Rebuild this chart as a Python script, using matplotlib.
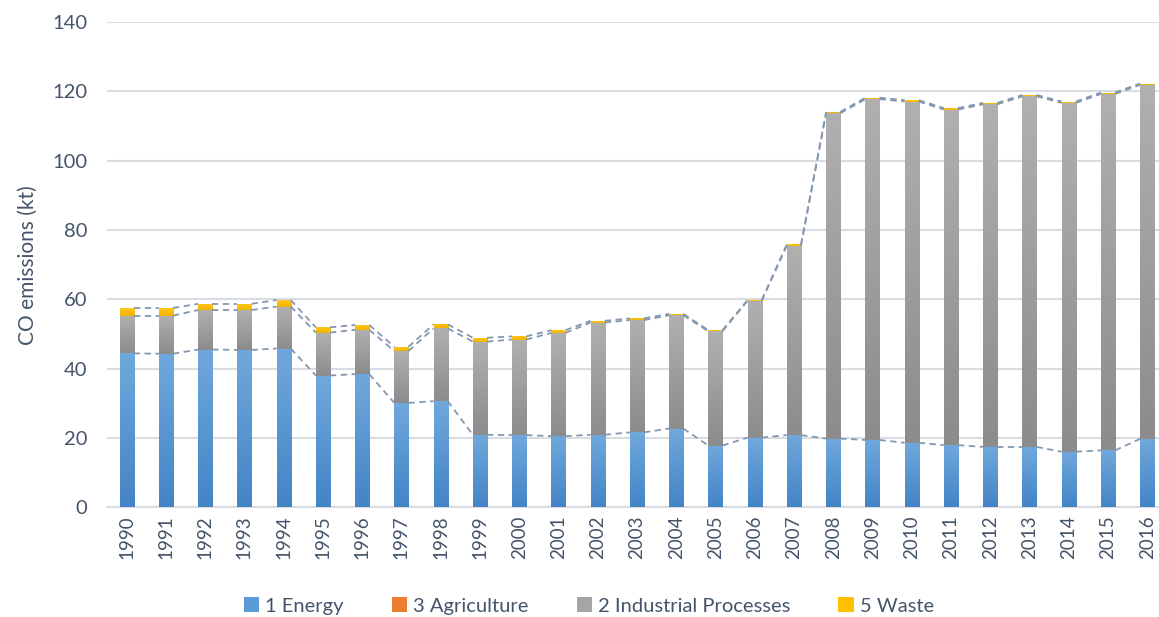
import numpy as np
import matplotlib
matplotlib.use("Agg")
import matplotlib.pyplot as plt
from matplotlib.colors import LinearSegmentedColormap
from matplotlib.patches import Patch

years = [str(y) for y in range(1990, 2017)]
energy = [44.4, 44.3, 45.5, 45.4, 45.8, 38.0, 38.4, 30.1, 30.6, 20.9,
          20.8, 20.5, 20.9, 21.6, 22.7, 17.8, 20.1, 20.8, 19.8, 19.4,
          18.6, 17.9, 17.4, 17.4, 16.0, 16.4, 19.7]
agriculture = [0.0] * 27
industrial = [10.9, 11.0, 11.4, 11.5, 12.1, 12.4, 12.8, 15.0, 21.0, 26.9,
              27.6, 29.8, 32.4, 32.4, 32.7, 33.0, 39.5, 54.7, 93.9, 98.4,
              98.5, 96.9, 98.9, 101.2, 100.7, 102.9, 102.2]
waste = [2.2, 2.2, 1.8, 1.8, 1.9, 1.5, 1.4, 1.2, 1.2, 1.1,
         0.9, 0.8, 0.5, 0.5, 0.4, 0.3, 0.2, 0.4, 0.4, 0.4,
         0.4, 0.4, 0.4, 0.4, 0.4, 0.4, 0.4]

series_names = ["1 Energy", "3 Agriculture", "2 Industrial Processes", "5 Waste"]
legend_colors = ["#5b9bd5", "#ed7d31", "#a5a5a5", "#ffc000"]

plt.rcParams['font.family'] = ['Lato', 'DejaVu Sans']
text_color = "#44546a"

fig = plt.figure(figsize=(11.59, 6.17), dpi=100)
ax = fig.add_axes([0.092, 0.178, 0.908, 0.786])

x = np.arange(len(years))
w = 0.36

e = np.array(energy)
a = np.array(agriculture)
ind = np.array(industrial)
wa = np.array(waste)

grad_specs = [
    (e, np.zeros_like(e), ["#4485c6", "#6fa8dc"]),
    (a, e, ["#d9692a", "#f08c4a"]),
    (ind, e + a, ["#8c8c8c", "#b0b0b0"]),
    (wa, e + a + ind, ["#f0b400", "#ffc71a"]),
]

ax.set_xlim(-0.51, 26.3)
ax.set_ylim(0, 140)

for vals, bottoms, cols in grad_specs:
    cmap = LinearSegmentedColormap.from_list("g", cols)
    bars = ax.bar(x, vals, width=w, bottom=bottoms, color=cols[1],
                  linewidth=0, zorder=3)
    for rect in bars:
        h = rect.get_height()
        if h <= 0:
            continue
        x0 = rect.get_x()
        y0 = rect.get_y()
        grad = np.linspace(0, 1, 64).reshape(-1, 1)
        im = ax.imshow(grad, cmap=cmap, origin="lower", aspect="auto",
                       extent=(x0, x0 + rect.get_width(), y0, y0 + h),
                       zorder=3.5, interpolation="bicubic")
        im.set_clip_path(rect)

# series lines (top-right of bar to top-left of next)
line_color = "#8497b0"
for tops in [e, e + a + ind, e + a + ind + wa]:
    for i in range(len(x) - 1):
        ax.plot([x[i] + w / 2, x[i + 1] - w / 2], [tops[i], tops[i + 1]],
                color=line_color, linestyle=(0, (3.5, 2.5)), linewidth=1.3,
                zorder=4)

ax.set_yticks(np.arange(0, 141, 20))
ax.yaxis.grid(True, color="#d9dde3", linewidth=1.5, zorder=0)
ax.set_axisbelow(True)
ax.set_xticks(x)
ax.set_xticklabels(years, rotation=90, fontsize=13.5, color=text_color)
ax.tick_params(axis='y', labelsize=14.5, labelcolor=text_color, length=0, pad=14)
ax.tick_params(axis='x', length=0, pad=6)
for s in ["top", "right", "left"]:
    ax.spines[s].set_visible(False)
ax.spines["bottom"].set_color("#d9dde3")
ax.spines["bottom"].set_linewidth(1.5)

ax.set_ylabel("CO emissions (kt)", fontsize=15, color=text_color, labelpad=10)

handles = [Patch(facecolor=c, edgecolor="none") for c in legend_colors]
fig.legend(handles, series_names, loc="center", bbox_to_anchor=(0.508, 0.018),
           ncol=4, frameon=False, fontsize=14.5, labelcolor=text_color,
           handlelength=0.75, handleheight=0.75, handletextpad=0.3,
           columnspacing=2.4)

fig.savefig("out.png", dpi=100)
